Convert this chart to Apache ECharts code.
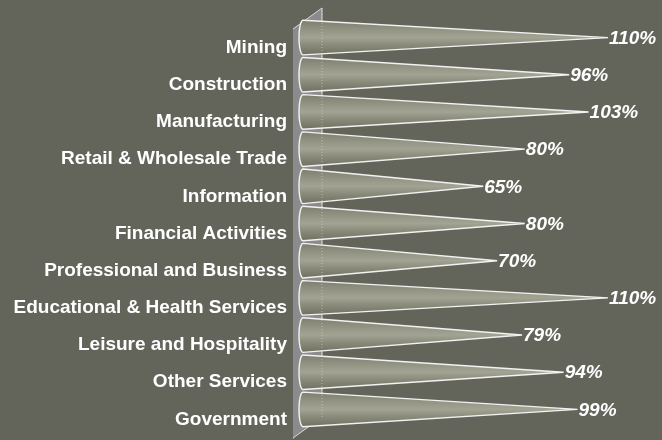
<!DOCTYPE html>
<html>
<head>
<meta charset="utf-8">
<script src="https://cdn.jsdelivr.net/npm/echarts@6/dist/echarts.min.js"></script>
<style>
  html, body { margin: 0; padding: 0; background: #64655a; }
  #chart { width: 662px; height: 440px; }
</style>
</head>
<body>
<div id="chart"></div>
<script>
const categories = [
  'Mining', 'Construction', 'Manufacturing', 'Retail & Wholesale Trade',
  'Information', 'Financial Activities', 'Professional and Business',
  'Educational & Health Services', 'Leisure and Hospitality',
  'Other Services', 'Government'
];
const values = [110, 96, 103, 80, 65, 80, 70, 110, 79, 94, 99];

// 3D look: depth of the back wall and the cones' shift inside it
const WALL_DX = 29, WALL_DY = -21;
const CONE_DX = 10, CONE_DY = -10;
const FONT = '"Liberation Sans", Arial, sans-serif';

const chart = echarts.init(document.getElementById('chart'));

const coneFill = new echarts.graphic.LinearGradient(0, 0, 0, 1, [
  { offset: 0, color: '#7c7c6d' },
  { offset: 0.3, color: '#959585' },
  { offset: 0.5, color: '#a3a393' },
  { offset: 0.7, color: '#8b8b7b' },
  { offset: 1, color: '#6e6e60' }
]);

const renderWall = (params) => {
  const cs = params.coordSys;
  const x = cs.x, y = cs.y, h = cs.height;
  return {
    type: 'group',
    children: [
      {
        type: 'polygon',
        shape: { points: [[x, y + h], [x, y], [x + WALL_DX, y + WALL_DY], [x + WALL_DX, y + h + WALL_DY]] },
        style: { fill: '#8b8b8d', stroke: null }
      },
      {
        type: 'polyline',
        shape: { points: [[x, y], [x + WALL_DX, y + WALL_DY], [x + WALL_DX, y + h + WALL_DY]] },
        style: { stroke: '#d8d8d8', lineWidth: 1, fill: null }
      },
      {
        type: 'line',
        shape: { x1: x, y1: y + h, x2: x + WALL_DX, y2: y + h + WALL_DY },
        style: { stroke: '#d8d8d8', lineWidth: 1 }
      }
    ]
  };
};

const renderCone = (params, api) => {
  const idx = api.value(0);
  const v = api.value(1);
  const base = api.coord([0, idx]);
  const tip = api.coord([v, idx]);
  const band = api.size([0, 1])[1];
  const r = band * 0.465;
  const bx = base[0] + CONE_DX;
  const by = base[1] + CONE_DY;
  const tx = tip[0] + CONE_DX;
  const pts = [[bx, by - r], [tx, by], [bx, by + r]];
  for (let k = 1; k < 24; k++) {
    const a = Math.PI / 2 + (Math.PI * k) / 24;
    pts.push([bx + 4 * Math.cos(a), by + r * Math.sin(a)]);
  }
  return {
    type: 'group',
    children: [
      {
        type: 'polygon',
        shape: { points: pts },
        style: { fill: coneFill, stroke: '#f2f2f2', lineWidth: 1.4 }
      },
      {
        type: 'text',
        x: tx + 1,
        y: by + 1,
        style: {
          text: v + '%',
          fill: '#ffffff',
          font: 'italic bold 19px ' + FONT,
          verticalAlign: 'middle',
          align: 'left'
        }
      }
    ]
  };
};

const renderDots = (params) => {
  const cs = params.coordSys;
  const x = cs.x + WALL_DX;
  return {
    type: 'line',
    shape: { x1: x, y1: cs.y + WALL_DY, x2: x, y2: cs.y + cs.height + WALL_DY },
    style: { stroke: 'rgba(225,225,215,0.55)', lineWidth: 1, lineDash: [1, 2] }
  };
};

const option = {
  backgroundColor: '#64655a',
  animation: false,
  grid: { left: 293, top: 29, width: 305, bottom: 2 },
  xAxis: { type: 'value', min: 0, max: 110, show: false },
  yAxis: {
    type: 'category',
    data: categories,
    inverse: true,
    axisLine: { lineStyle: { color: '#e6e6e6', width: 1 } },
    axisTick: { length: 7, lineStyle: { color: '#e6e6e6' } },
    axisLabel: { color: '#ffffff', fontWeight: 'bold', fontSize: 19, fontFamily: FONT, margin: 6 },
    splitLine: { show: false }
  },
  series: [
    { type: 'custom', renderItem: renderWall, data: [[0, 0]], silent: true },
    {
      type: 'custom',
      renderItem: renderCone,
      encode: { y: 0, x: 1 },
      data: values.map((v, i) => [i, v])
    },
    { type: 'custom', renderItem: renderDots, data: [[0, 0]], silent: true }
  ]
};

chart.setOption(option);
window.addEventListener('resize', () => chart.resize());
</script>
</body>
</html>
